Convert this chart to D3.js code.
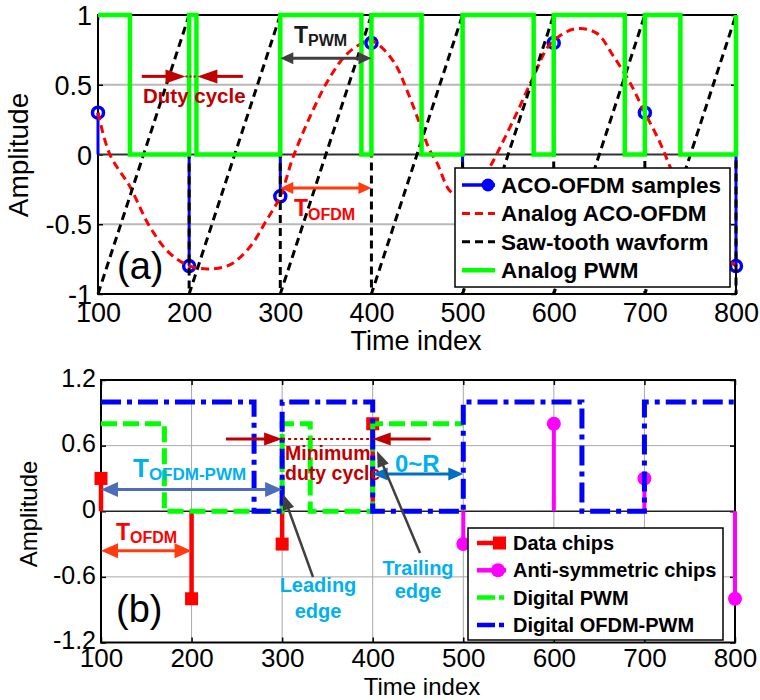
<!DOCTYPE html>
<html>
<head>
<meta charset="utf-8">
<script src="https://cdn.jsdelivr.net/npm/d3@7"></script>
<style>
body { margin: 0; background: #fff; }
svg { display: block; }
text { font-family: "Liberation Sans", Arial, sans-serif; }
</style>
</head>
<body>
<script>
// ---- data ----
var xTicks = [100, 200, 300, 400, 500, 600, 700, 800];
var yTicksA = [-1, -0.5, 0, 0.5, 1];
var yTickLabelsA = ["-1", "-0.5", "0", "0.5", "1"];
var yTicksB = [-1.2, -0.6, 0, 0.6, 1.2];
var yTickLabelsB = ["-1.2", "-0.6", "0", "0.6", "1.2"];

// panel (a)
var sampleTimes = [100, 200, 300, 400, 500, 600, 700, 800];
var acoSamples = [0.3, -0.8, -0.3, 0.8, -0.3, 0.8, 0.3, -0.8];
var analogTimes = [100, 113, 135, 157, 179, 201, 223, 245, 267, 285, 300, 314,
    336, 355, 373, 391, 402, 424, 439, 453, 464, 472, 486, 500, 515, 530,
    556, 578, 596, 623, 647, 665, 684, 700, 717, 731, 750, 775, 800];
var analogValues = [0.3, 0.0, -0.23, -0.52, -0.71, -0.8, -0.82, -0.79, -0.66,
    -0.47, -0.3, -0.02, 0.32, 0.56, 0.72, 0.8, 0.81, 0.67, 0.46, 0.22, 0.03,
    -0.06, -0.26, -0.31, -0.25, -0.09, 0.25, 0.56, 0.79, 0.9, 0.87, 0.71,
    0.51, 0.3, 0.08, -0.14, -0.4, -0.66, -0.8];
var sawTimes = [100, 200, 300, 400, 500, 600, 700, 800];
var sawLevels = [-1, 1];
var pwmTimes = [100, 135, 200, 208, 300, 389, 400, 455, 500, 578, 600, 678,
    700, 739, 800];
var pwmLevels = [1, 0, 1, 0, 1, 0, 1, 0, 1, 0, 1, 0, 1, 0, 1];
var legendA = ["ACO-OFDM samples", "Analog ACO-OFDM", "Saw-tooth wavform",
    "Analog PWM"];

// panel (b)
var dataChipTimes = [100, 200, 300, 400];
var dataChips = [0.3, -0.8, -0.3, 0.8];
var antiChipTimes = [500, 600, 700, 800];
var antiChips = [-0.3, 0.8, 0.3, -0.8];
var dpwmTimes = [100, 170, 300, 331, 400, 500];
var dpwmLevels = [0.8, 0, 0.8, 0, 0.8, 0.8];
var opwmTimes = [100, 269, 300, 400, 500, 631, 700, 800];
var opwmLevels = [1, 0, 1, 0, 1, 0, 1, 1];
var legendB = ["Data chips", "Anti-symmetric chips", "Digital PWM",
    "Digital OFDM-PWM"];

var svg = d3.select("body").append("svg")
    .attr("width", 760)
    .attr("height", 700);

var SERIF = "'Liberation Serif', 'Times New Roman', serif";
var CALI = "Lato, 'Open Sans', sans-serif";

// arrow with triangular head(s), drawn in pixel space
function arrow(g, x1, y1, x2, y2, color, w, hl, hw, both) {
    var dx = x2 - x1, dy = y2 - y1, L = Math.sqrt(dx * dx + dy * dy);
    var ux = dx / L, uy = dy / L;
    var s = both ? hl * 0.8 : 0;
    g.append("line")
        .attr("x1", x1 + ux * s).attr("y1", y1 + uy * s)
        .attr("x2", x2 - ux * hl * 0.8).attr("y2", y2 - uy * hl * 0.8)
        .attr("stroke", color).attr("stroke-width", w);
    function head(x, y, vx, vy) {
        var bx = x - vx * hl, by = y - vy * hl;
        var px = -vy * hw / 2, py = vx * hw / 2;
        g.append("polygon")
            .attr("points", [[x, y], [bx + px, by + py], [bx - px, by - py]]
                .map(function (p) { return p.join(","); }).join(" "))
            .attr("fill", color);
    }
    head(x2, y2, ux, uy);
    if (both) head(x1, y1, -ux, -uy);
}

// frame + axes with inward ticks
function frame(g, x, y, ticksY, labelsY, fsX, fsY, padX, padY, dyY) {
    var x0 = x.range()[0], x1 = x.range()[1];
    var y0 = y.range()[1], y1 = y.range()[0];
    var ax = [
        [d3.axisBottom(x), "translate(0," + y1 + ")", true],
        [d3.axisTop(x), "translate(0," + y0 + ")", false]
    ];
    ax.forEach(function (a) {
        var gg = g.append("g").attr("transform", a[1])
            .call(a[0].tickValues(xTicks).tickSizeInner(-5).tickSizeOuter(0)
                .tickPadding(padX)
                .tickFormat(a[2] ? d3.format("d") : ""));
        gg.select(".domain").remove();
        gg.selectAll("line").attr("stroke", "#000").attr("stroke-width", 1.5);
        gg.selectAll("text").attr("font-size", fsX + "px")
            .attr("fill", "#000");
    });
    var ay = [
        [d3.axisLeft(y), "translate(" + x0 + ",0)", true],
        [d3.axisRight(y), "translate(" + x1 + ",0)", false]
    ];
    ay.forEach(function (a) {
        var gg = g.append("g").attr("transform", a[1])
            .call(a[0].tickValues(ticksY).tickSizeInner(-5).tickSizeOuter(0)
                .tickPadding(padY)
                .tickFormat(function (d, i) {
                    return a[2] ? labelsY[i] : "";
                }));
        gg.select(".domain").remove();
        gg.selectAll("line").attr("stroke", "#000").attr("stroke-width", 1.5);
        gg.selectAll("text").attr("font-size", fsY + "px")
            .attr("fill", "#000").attr("dy", dyY);
    });
    g.append("rect")
        .attr("x", x0).attr("y", y0)
        .attr("width", x1 - x0).attr("height", y1 - y0)
        .attr("fill", "none").attr("stroke", "#000").attr("stroke-width", 2);
}

/* =========================== panel (a) =========================== */
var xA = d3.scaleLinear().domain([100, 800]).range([98, 736]);
var yA = d3.scaleLinear().domain([-1, 1]).range([294, 15]);
var gA = svg.append("g");

// horizontal grid
gA.selectAll(".grid")
    .data(yTicksA.filter(function (d) { return d !== 0 && Math.abs(d) < 1; }))
    .enter().append("line")
    .attr("x1", xA(100)).attr("x2", xA(800))
    .attr("y1", function (d) { return yA(d); })
    .attr("y2", function (d) { return yA(d); })
    .attr("stroke", "#b8b8b8").attr("stroke-width", 2);

frame(gA, xA, yA, yTicksA, yTickLabelsA, 27, 27, 9, 6, "0.36em");

// stem baseline
gA.append("line")
    .attr("x1", xA(100)).attr("x2", xA(800))
    .attr("y1", yA(0)).attr("y2", yA(0))
    .attr("stroke", "#333").attr("stroke-width", 2);

// ACO-OFDM samples (stems)
gA.selectAll(".stemA")
    .data(acoSamples)
    .enter().append("line")
    .attr("x1", function (d, i) { return xA(sampleTimes[i]); })
    .attr("x2", function (d, i) { return xA(sampleTimes[i]); })
    .attr("y1", yA(0))
    .attr("y2", function (d) { return yA(d); })
    .attr("stroke", "#0000ff").attr("stroke-width", 3);
gA.selectAll(".mkA")
    .data(acoSamples)
    .enter().append("circle")
    .attr("cx", function (d, i) { return xA(sampleTimes[i]); })
    .attr("cy", function (d) { return yA(d); })
    .attr("r", 5.5)
    .attr("fill", "none").attr("stroke", "#0000ff").attr("stroke-width", 3.5);

// analog ACO-OFDM
var analogLine = d3.line()
    .x(function (d) { return xA(d[0]); })
    .y(function (d) { return yA(d[1]); })
    .curve(d3.curveCatmullRom);
gA.append("path")
    .attr("d", analogLine(d3.zip(analogTimes, analogValues)))
    .attr("fill", "none").attr("stroke", "#ff0000")
    .attr("stroke-width", 3).attr("stroke-dasharray", "8,5");

// saw-tooth
var sawPts = [];
for (var i = 0; i < sawTimes.length - 1; i++) {
    sawPts.push([sawTimes[i], sawLevels[0]]);
    sawPts.push([sawTimes[i + 1], sawLevels[1]]);
}
sawPts.push([sawTimes[sawTimes.length - 1], sawLevels[0]]);
gA.append("path")
    .attr("d", d3.line()
        .x(function (d) { return xA(d[0]); })
        .y(function (d) { return yA(d[1]); })(sawPts))
    .attr("fill", "none").attr("stroke", "#000")
    .attr("stroke-width", 3).attr("stroke-dasharray", "8,5");

// analog PWM
gA.append("path")
    .attr("d", d3.line()
        .x(function (d) { return xA(d[0]); })
        .y(function (d) { return yA(d[1]); })
        .curve(d3.curveStepAfter)(d3.zip(pwmTimes, pwmLevels)))
    .attr("fill", "none").attr("stroke", "#00ff00")
    .attr("stroke-width", 4.5);

// annotations (a)
var dr = "#c00000";
arrow(gA, xA(148), yA(0.56), xA(196), yA(0.56), dr, 3, 20, 14, false);
arrow(gA, xA(259), yA(0.56), xA(209), yA(0.56), dr, 3, 20, 14, false);
gA.append("line")
    .attr("x1", xA(196)).attr("x2", xA(209))
    .attr("y1", yA(0.56)).attr("y2", yA(0.56))
    .attr("stroke", dr).attr("stroke-width", 2)
    .attr("stroke-dasharray", "2,2");
gA.append("text")
    .attr("x", 143).attr("y", 103)
    .attr("font-family", SERIF).attr("font-weight", "bold")
    .attr("font-size", "20.5px").attr("fill", dr)
    .text("Duty cycle");

arrow(gA, xA(300), yA(0.69), xA(400), yA(0.69), "#404040", 3, 13, 12, true);
var tp = gA.append("text")
    .attr("x", 294).attr("y", 43)
    .attr("font-family", CALI).attr("font-weight", "bold")
    .attr("fill", "#1a1a1a");
tp.append("tspan").attr("font-size", "23px").text("T");
tp.append("tspan").attr("font-size", "16px").attr("dy", 3).text("PWM");

arrow(gA, xA(300), yA(-0.24), xA(400), yA(-0.24), "#ff3c10", 3, 13, 12, true);
var to = gA.append("text")
    .attr("x", 294).attr("y", 216)
    .attr("font-family", CALI).attr("font-weight", "bold")
    .attr("fill", "#ff0000");
to.append("tspan").attr("font-size", "23px").text("T");
to.append("tspan").attr("font-size", "16px").attr("dy", 4).text("OFDM");

gA.append("text")
    .attr("x", 117).attr("y", 279)
    .attr("font-family", "'Open Sans', sans-serif")
    .attr("font-size", "38px").attr("fill", "#000")
    .text("(a)");

// labels (a)
gA.append("text")
    .attr("x", 416).attr("y", 350)
    .attr("text-anchor", "middle").attr("font-size", "27px")
    .text("Time index");
gA.append("text")
    .attr("transform", "translate(28,155) rotate(-90)")
    .attr("text-anchor", "middle").attr("font-size", "28px")
    .text("Amplitude");

// legend (a)
var lgA = gA.append("g");
lgA.append("rect")
    .attr("x", 455).attr("y", 168).attr("width", 275).attr("height", 119)
    .attr("fill", "#fff").attr("stroke", "#000").attr("stroke-width", 1.5);
legendA.forEach(function (name, i) {
    var cy = 185 + i * 28.4;
    var ln = lgA.append("line")
        .attr("x1", 462).attr("x2", 495).attr("y1", cy).attr("y2", cy)
        .attr("stroke-width", 3);
    if (i === 0) {
        ln.attr("stroke", "#0000ff").attr("stroke-width", 3.5);
        lgA.append("circle").attr("cx", 488).attr("cy", cy).attr("r", 6.5)
            .attr("fill", "#0000ff");
    } else if (i === 1) {
        ln.attr("stroke", "#ff0000").attr("stroke-dasharray", "8,5");
    } else if (i === 2) {
        ln.attr("stroke", "#000").attr("stroke-dasharray", "8,5");
    } else {
        ln.attr("stroke", "#00ff00").attr("stroke-width", 4.5);
    }
    lgA.append("text")
        .attr("x", 501).attr("y", cy + 8)
        .attr("font-size", "22.5px").attr("font-weight", "bold")
        .text(name);
});

/* =========================== panel (b) =========================== */
var xB = d3.scaleLinear().domain([100, 800]).range([101, 735]);
var yB = d3.scaleLinear().domain([-1.2, 1.2]).range([642.5, 380]);
var gB = svg.append("g");

gB.selectAll(".gx")
    .data(xTicks.slice(1, -1))
    .enter().append("line")
    .attr("x1", function (d) { return xB(d); })
    .attr("x2", function (d) { return xB(d); })
    .attr("y1", yB(1.2)).attr("y2", yB(-1.2))
    .attr("stroke", "#a8a8a8").attr("stroke-width", 1);
gB.selectAll(".gy")
    .data(yTicksB.filter(function (d) { return d !== 0 && Math.abs(d) < 1.2; }))
    .enter().append("line")
    .attr("x1", xB(100)).attr("x2", xB(800))
    .attr("y1", function (d) { return yB(d); })
    .attr("y2", function (d) { return yB(d); })
    .attr("stroke", "#a8a8a8").attr("stroke-width", 1);

frame(gB, xB, yB, yTicksB, yTickLabelsB, 26, 25, 6, 5, "0.25em");

gB.append("line")
    .attr("x1", xB(100)).attr("x2", xB(800))
    .attr("y1", yB(0)).attr("y2", yB(0))
    .attr("stroke", "#222").attr("stroke-width", 1.5);

// data chips
gB.selectAll(".stemR")
    .data(dataChips)
    .enter().append("line")
    .attr("x1", function (d, i) { return xB(dataChipTimes[i]); })
    .attr("x2", function (d, i) { return xB(dataChipTimes[i]); })
    .attr("y1", yB(0))
    .attr("y2", function (d) { return yB(d); })
    .attr("stroke", "#ff0000").attr("stroke-width", 4.5);
gB.selectAll(".mkR")
    .data(dataChips)
    .enter().append("rect")
    .attr("x", function (d, i) { return xB(dataChipTimes[i]) - 6.5; })
    .attr("y", function (d) { return yB(d) - 6.5; })
    .attr("width", 13).attr("height", 13)
    .attr("fill", "#ff0000");

// anti-symmetric chips
gB.selectAll(".stemM")
    .data(antiChips)
    .enter().append("line")
    .attr("x1", function (d, i) { return xB(antiChipTimes[i]); })
    .attr("x2", function (d, i) { return xB(antiChipTimes[i]); })
    .attr("y1", yB(0))
    .attr("y2", function (d) { return yB(d); })
    .attr("stroke", "#ff00ff").attr("stroke-width", 4);
gB.selectAll(".mkM")
    .data(antiChips)
    .enter().append("circle")
    .attr("cx", function (d, i) { return xB(antiChipTimes[i]); })
    .attr("cy", function (d) { return yB(d); })
    .attr("r", 7)
    .attr("fill", "#ff00ff");

// digital PWM
var stepB = d3.line()
    .x(function (d) { return xB(d[0]); })
    .y(function (d) { return yB(d[1]); })
    .curve(d3.curveStepAfter);
gB.append("path")
    .attr("d", stepB(d3.zip(dpwmTimes, dpwmLevels)))
    .attr("fill", "none").attr("stroke", "#00ff00")
    .attr("stroke-width", 5).attr("stroke-dasharray", "16,6");

// digital OFDM-PWM
gB.append("path")
    .attr("d", stepB(d3.zip(opwmTimes, opwmLevels)))
    .attr("fill", "none").attr("stroke", "#0000ff")
    .attr("stroke-width", 5).attr("stroke-dasharray", "20,6,5,6");

// annotations (b)
var lb = "#00b0f0";
arrow(gB, xB(100), yB(0.2), xB(300), yB(0.2), "#4f6cb8", 3, 17, 15, true);
var tb = gB.append("text")
    .attr("x", 133).attr("y", 477)
    .attr("font-family", CALI).attr("font-weight", "bold").attr("fill", lb);
tb.append("tspan").attr("font-size", "26px").text("T");
tb.append("tspan").attr("font-size", "17px").attr("dy", 3).text("OFDM-PWM");

arrow(gB, xB(100), yB(-0.36), xB(200), yB(-0.36), "#ff3c10", 3, 17, 15, true);
var tb2 = gB.append("text")
    .attr("x", 116).attr("y", 540)
    .attr("font-family", CALI).attr("font-weight", "bold")
    .attr("fill", "#ff0000");
tb2.append("tspan").attr("font-size", "23px").text("T");
tb2.append("tspan").attr("font-size", "16px").attr("dy", 3).text("OFDM");

arrow(gB, xB(238), yB(0.66), xB(300), yB(0.66), dr, 3, 18, 13, false);
arrow(gB, xB(464), yB(0.66), xB(400), yB(0.66), dr, 3, 18, 13, false);
gB.append("line")
    .attr("x1", xB(300)).attr("x2", xB(400))
    .attr("y1", yB(0.66)).attr("y2", yB(0.66))
    .attr("stroke", dr).attr("stroke-width", 2)
    .attr("stroke-dasharray", "3,3");
gB.append("text")
    .attr("x", 285).attr("y", 460)
    .attr("font-family", SERIF).attr("font-weight", "bold")
    .attr("font-size", "19.5px").attr("fill", dr)
    .text("Minimum");
gB.append("text")
    .attr("x", 285).attr("y", 480)
    .attr("font-family", SERIF).attr("font-weight", "bold")
    .attr("font-size", "19.5px").attr("fill", dr)
    .text("duty cycle");

arrow(gB, xB(400), yB(0.34), xB(500), yB(0.34), "#0070c0", 3, 15, 13, true);
gB.append("text")
    .attr("x", 395).attr("y", 472)
    .attr("font-family", CALI).attr("font-weight", "bold")
    .attr("font-size", "24px").attr("fill", lb)
    .text("0~R");

arrow(gB, 313, 577, 283, 494, "#404040", 2.5, 16, 12, false);
arrow(gB, 420, 553, 377, 451, "#404040", 2.5, 16, 12, false);
[["Leading", 318, 592], ["edge", 318, 618],
 ["Trailing", 418, 575], ["edge", 418, 598]].forEach(function (t) {
    gB.append("text")
        .attr("x", t[1]).attr("y", t[2])
        .attr("text-anchor", "middle")
        .attr("font-family", CALI).attr("font-weight", "bold")
        .attr("font-size", "20px").attr("fill", lb)
        .text(t[0]);
});

gB.append("text")
    .attr("x", 116).attr("y", 622)
    .attr("font-family", "'Open Sans', sans-serif")
    .attr("font-size", "38px").attr("fill", "#000")
    .text("(b)");

gB.append("text")
    .attr("x", 422).attr("y", 694.5)
    .attr("text-anchor", "middle").attr("font-size", "24px")
    .text("Time index");
gB.append("text")
    .attr("transform", "translate(37,514) rotate(-90)")
    .attr("text-anchor", "middle").attr("font-size", "24px")
    .text("Amplitude");

// legend (b)
var lgB = gB.append("g");
lgB.append("rect")
    .attr("x", 468).attr("y", 528).attr("width", 255).attr("height", 112)
    .attr("fill", "#fff").attr("stroke", "#000").attr("stroke-width", 1.5);
legendB.forEach(function (name, i) {
    var cy = 543 + i * 27.3;
    var ln = lgB.append("line")
        .attr("x1", 477).attr("x2", 506).attr("y1", cy).attr("y2", cy)
        .attr("stroke-width", 4.5);
    if (i === 0) {
        ln.attr("stroke", "#ff0000");
        lgB.append("rect").attr("x", 493).attr("y", cy - 6.5)
            .attr("width", 13).attr("height", 13).attr("fill", "#ff0000");
    } else if (i === 1) {
        ln.attr("stroke", "#ff00ff");
        lgB.append("circle").attr("cx", 498).attr("cy", cy).attr("r", 7)
            .attr("fill", "#ff00ff");
    } else if (i === 2) {
        ln.attr("stroke", "#00ff00").attr("stroke-dasharray", "18,4,5,10");
    } else {
        ln.attr("stroke", "#0000ff").attr("stroke-dasharray", "18,4,5,10");
    }
    lgB.append("text")
        .attr("x", 513).attr("y", cy + 7)
        .attr("font-size", "20px").attr("font-weight", "bold")
        .text(name);
});
</script>
</body>
</html>
